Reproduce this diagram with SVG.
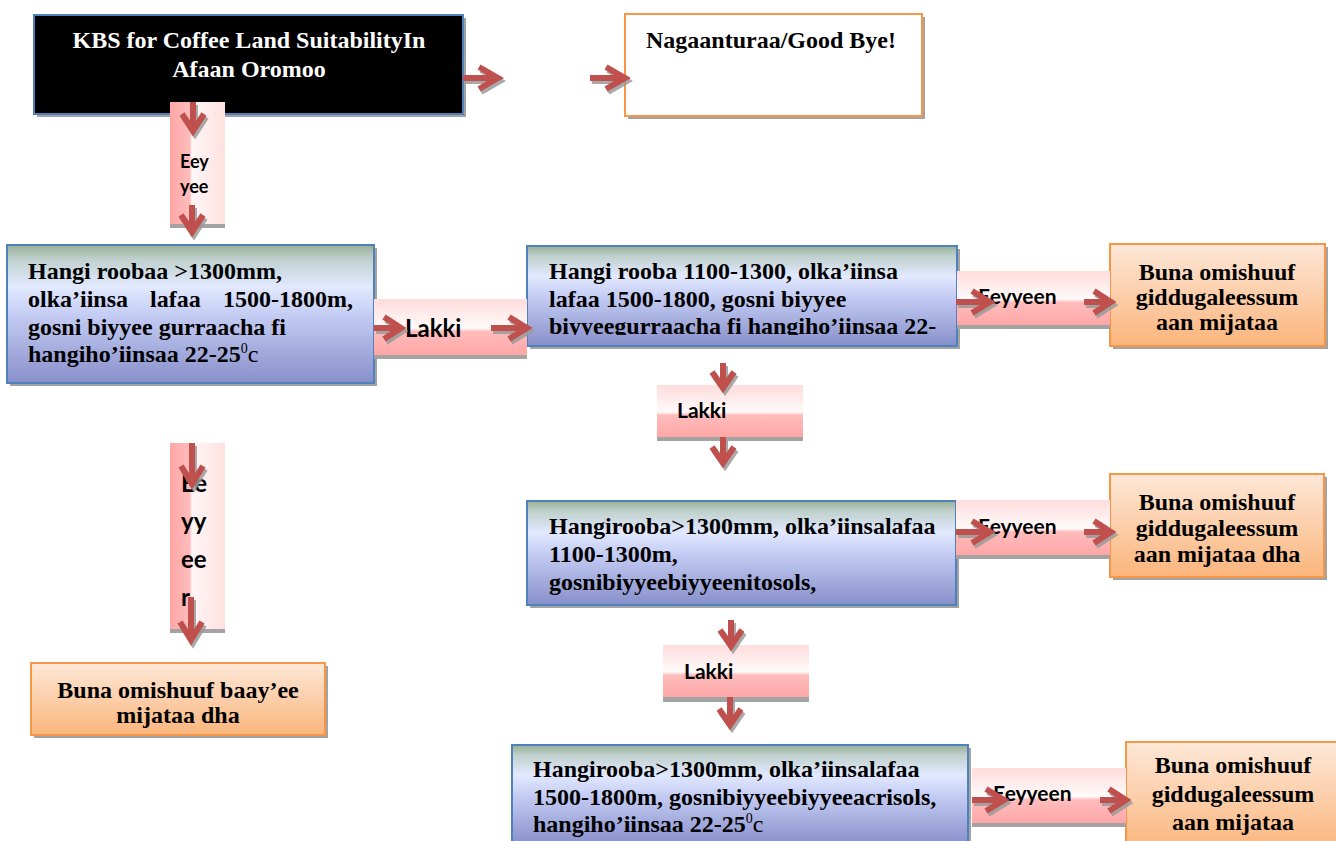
<svg xmlns="http://www.w3.org/2000/svg" width="1336" height="841" viewBox="0 0 1336 841">
<defs>
<linearGradient id="gBlue" x1="0" y1="0" x2="0" y2="1">
<stop offset="0" stop-color="#98b096"/>
<stop offset="0.1" stop-color="#bfd0cc"/>
<stop offset="0.3" stop-color="#e2e9ff"/>
<stop offset="0.5" stop-color="#c5cdf4"/>
<stop offset="1" stop-color="#878fca"/>
</linearGradient>
<linearGradient id="gOrange" x1="0" y1="0" x2="0" y2="1">
<stop offset="0" stop-color="#fde8d8"/>
<stop offset="1" stop-color="#fbb57c"/>
</linearGradient>
<linearGradient id="gPinkH" x1="0" y1="0" x2="0" y2="1">
<stop offset="0" stop-color="#ffdcdc"/>
<stop offset="0.52" stop-color="#fffafa"/>
<stop offset="0.58" stop-color="#ffbcbc"/>
<stop offset="1" stop-color="#ffa6a6"/>
</linearGradient>
<linearGradient id="gPinkV" x1="0" y1="0" x2="1" y2="0">
<stop offset="0" stop-color="#ffa6a6"/>
<stop offset="0.36" stop-color="#ffbcbc"/>
<stop offset="0.4" stop-color="#fff6f6"/>
<stop offset="1" stop-color="#ffe0e0"/>
</linearGradient>
<clipPath id="clipB2"><rect x="527" y="246" width="430" height="89"/></clipPath>
</defs>
<style>
.sh{fill:#a3a3a3}
.blue{fill:url(#gBlue);stroke:#4f81bd;stroke-width:2}
.orng{fill:url(#gOrange);stroke:#f79646;stroke-width:2}
.pinkH{fill:url(#gPinkH)}
.pinkV{fill:url(#gPinkV)}
.t{font-family:"Liberation Serif","Times New Roman",serif;font-weight:bold;font-size:24px;fill:#000}
.tc{text-anchor:middle}
.lbl{font-family:Lato,"Open Sans","Liberation Sans",sans-serif;font-weight:bold;fill:#000}
.ar{fill:none;stroke:#c0504d;stroke-width:6;stroke-linejoin:miter;stroke-linecap:butt}
.as{fill:none;stroke:#9a9a9a;stroke-width:6;stroke-linejoin:miter;stroke-linecap:butt;opacity:0.85}
.sup{font-size:14px;font-weight:normal}
.nw{font-weight:normal}
</style>
<rect width="1336" height="841" fill="#fff"/>

<g id="node-start">
<rect class="sh" x="37" y="18" width="429" height="99"/>
<rect x="34" y="15" width="429" height="99" fill="#000" stroke="#4f81bd" stroke-width="2"/>
<text class="t tc" x="249" y="48" style="fill:#fff">KBS for Coffee Land SuitabilityIn</text>
<text class="t tc" x="249" y="77" style="fill:#fff">Afaan Oromoo</text>
</g>

<g id="node-goodbye">
<rect class="sh" x="628" y="17" width="297" height="102"/>
<rect x="625" y="14" width="297" height="102" fill="#fff" stroke="#f79646" stroke-width="2"/>
<text class="t tc" x="771" y="48">Nagaanturaa/Good Bye!</text>
</g>

<g id="node-q1">
<rect class="sh" x="10" y="248" width="367" height="138"/>
<rect class="blue" x="7" y="245" width="367" height="138"/>
<text class="t" x="28" y="279">Hangi roobaa &gt;1300mm,</text>
<text class="t" y="307"><tspan x="28">olka’iinsa</tspan><tspan x="150">lafaa</tspan><tspan x="223">1500-1800m,</tspan></text>
<text class="t" x="28" y="335">gosni biyyee gurraacha fi</text>
<text class="t" x="28" y="362">hangiho’iinsaa 22-25<tspan class="sup" dy="-9">0</tspan><tspan class="nw" dy="9">c</tspan></text>
</g>

<g id="node-q2">
<rect class="sh" x="530" y="249" width="430" height="100"/>
<rect class="blue" x="527" y="246" width="430" height="100"/>
<g clip-path="url(#clipB2)">
<text class="t" x="549" y="279">Hangi rooba 1100-1300, olka’iinsa</text>
<text class="t" x="549" y="307">lafaa 1500-1800, gosni biyyee</text>
<text class="t" x="549" y="334">biyyeegurraacha fi hangiho’iinsaa 22-</text>
</g>
</g>

<g id="node-r1">
<rect class="sh" x="1113" y="247" width="215" height="102"/>
<rect class="orng" x="1110" y="244" width="215" height="102"/>
<text class="t tc" x="1217" y="280">Buna omishuuf</text>
<text class="t tc" x="1217" y="305">giddugaleessum</text>
<text class="t tc" x="1217" y="330">aan mijataa</text>
</g>

<g id="node-q3">
<rect class="sh" x="530" y="504" width="429" height="104"/>
<rect class="blue" x="527" y="501" width="429" height="104"/>
<text class="t" x="549" y="534">Hangirooba&gt;1300mm, olka’iinsalafaa</text>
<text class="t" x="549" y="562">1100-1300m,</text>
<text class="t" x="549" y="590">gosnibiyyeebiyyeenitosols,</text>
</g>

<g id="node-r2">
<rect class="sh" x="1113" y="477" width="214" height="103"/>
<rect class="orng" x="1110" y="474" width="214" height="103"/>
<text class="t tc" x="1217" y="510">Buna omishuuf</text>
<text class="t tc" x="1217" y="536">giddugaleessum</text>
<text class="t tc" x="1217" y="562">aan mijataa dha</text>
</g>

<g id="node-q4">
<rect class="sh" x="515" y="748" width="456" height="100"/>
<rect class="blue" x="512" y="745" width="456" height="100"/>
<text class="t" x="533" y="777">Hangirooba&gt;1300mm, olka’iinsalafaa</text>
<text class="t" x="533" y="805">1500-1800m, gosnibiyyeebiyyeeacrisols,</text>
<text class="t" x="533" y="832">hangiho’iinsaa 22-25<tspan class="sup" dy="-9">0</tspan><tspan class="nw" dy="9">c</tspan></text>
</g>

<g id="node-r3">
<rect class="sh" x="1129" y="745" width="215" height="110"/>
<rect class="orng" x="1126" y="742" width="215" height="110"/>
<text class="t tc" x="1233" y="773">Buna omishuuf</text>
<text class="t tc" x="1233" y="802">giddugaleessum</text>
<text class="t tc" x="1233" y="830">aan mijataa</text>
</g>

<g id="node-r0">
<rect class="sh" x="34" y="666" width="294" height="72"/>
<rect class="orng" x="31" y="663" width="294" height="72"/>
<text class="t tc" x="178" y="698">Buna omishuuf baay’ee</text>
<text class="t tc" x="178" y="723">mijataa dha</text>
</g>

<g id="connectors">
<g transform="translate(498,78)"><path class="as" transform="translate(2,3)" d="M-35,0 H-3 M-19,-11 L0,0 L-19,11"/><path class="ar" d="M-35,0 H-3 M-19,-11 L0,0 L-19,11"/></g>
<g transform="translate(625,78)"><path class="as" transform="translate(2,3)" d="M-35,0 H-3 M-19,-11 L0,0 L-19,11"/><path class="ar" d="M-35,0 H-3 M-19,-11 L0,0 L-19,11"/></g>

<g id="c-eeyyee">
<rect class="sh" x="170" y="224" width="55" height="4"/>
<rect class="pinkV" x="170" y="102" width="55" height="122"/>
<text class="lbl" x="180" y="168" font-size="18">Eey</text>
<text class="lbl" x="180" y="193" font-size="18">yee</text>
<g transform="translate(193,131)"><path class="as" transform="translate(2,3) rotate(90)" d="M-29,0 H-3 M-17,-11 L0,0 L-17,11"/><path class="ar" transform="rotate(90)" d="M-29,0 H-3 M-17,-11 L0,0 L-17,11"/></g>
<g transform="translate(192,232)"><path class="as" transform="translate(2,3) rotate(90)" d="M-27,0 H-3 M-17,-11 L0,0 L-17,11"/><path class="ar" transform="rotate(90)" d="M-27,0 H-3 M-17,-11 L0,0 L-17,11"/></g>
</g>

<g id="c-lakki-h">
<rect class="sh" x="374" y="355" width="153" height="4"/>
<rect class="pinkH" x="374" y="299" width="153" height="56"/>
<text class="lbl" x="405" y="337" font-size="24">Lakki</text>
<g transform="translate(401,328)"><path class="as" transform="translate(2,3)" d="M-27,0 H-3 M-17,-11 L0,0 L-17,11"/><path class="ar" d="M-27,0 H-3 M-17,-11 L0,0 L-17,11"/></g>
<g transform="translate(527,328)"><path class="as" transform="translate(2,3)" d="M-36,0 H-3 M-18,-11 L0,0 L-18,11"/><path class="ar" d="M-36,0 H-3 M-18,-11 L0,0 L-18,11"/></g>
</g>

<g id="c-eeyyeen-1">
<rect class="sh" x="957" y="325" width="153" height="4"/>
<rect class="pinkH" x="957" y="271" width="153" height="54"/>
<text class="lbl" x="978" y="304" font-size="21">Eeyyeen</text>
<g transform="translate(990,302)"><path class="as" transform="translate(2,3)" d="M-34,0 H-3 M-18,-11 L0,0 L-18,11"/><path class="ar" d="M-34,0 H-3 M-18,-11 L0,0 L-18,11"/></g>
<g transform="translate(1111,302)"><path class="as" transform="translate(2,3)" d="M-27,0 H-3 M-17,-11 L0,0 L-17,11"/><path class="ar" d="M-27,0 H-3 M-17,-11 L0,0 L-17,11"/></g>
</g>

<g id="c-lakki-v1">
<rect class="sh" x="657" y="437" width="146" height="4"/>
<rect class="pinkH" x="657" y="385" width="146" height="52"/>
<text class="lbl" x="677" y="418" font-size="21">Lakki</text>
<g transform="translate(723,388)"><path class="as" transform="translate(2,3) rotate(90)" d="M-25,0 H-3 M-16,-11 L0,0 L-16,11"/><path class="ar" transform="rotate(90)" d="M-25,0 H-3 M-16,-11 L0,0 L-16,11"/></g>
<g transform="translate(723,463)"><path class="as" transform="translate(2,3) rotate(90)" d="M-26,0 H-3 M-16,-11 L0,0 L-16,11"/><path class="ar" transform="rotate(90)" d="M-26,0 H-3 M-16,-11 L0,0 L-16,11"/></g>
</g>

<g id="c-eeyyeen-2">
<rect class="sh" x="956" y="555" width="154" height="4"/>
<rect class="pinkH" x="956" y="500" width="154" height="55"/>
<text class="lbl" x="978" y="534" font-size="21">Eeyyeen</text>
<g transform="translate(990,532)"><path class="as" transform="translate(2,3)" d="M-34,0 H-3 M-18,-11 L0,0 L-18,11"/><path class="ar" d="M-34,0 H-3 M-18,-11 L0,0 L-18,11"/></g>
<g transform="translate(1111,532)"><path class="as" transform="translate(2,3)" d="M-27,0 H-3 M-17,-11 L0,0 L-17,11"/><path class="ar" d="M-27,0 H-3 M-17,-11 L0,0 L-17,11"/></g>
</g>

<g id="c-lakki-v2">
<rect class="sh" x="663" y="697" width="146" height="5"/>
<rect class="pinkH" x="663" y="645" width="146" height="52"/>
<text class="lbl" x="684" y="679" font-size="21">Lakki</text>
<g transform="translate(731,646)"><path class="as" transform="translate(2,3) rotate(90)" d="M-26,0 H-3 M-16,-11 L0,0 L-16,11"/><path class="ar" transform="rotate(90)" d="M-26,0 H-3 M-16,-11 L0,0 L-16,11"/></g>
<g transform="translate(730,725)"><path class="as" transform="translate(2,3) rotate(90)" d="M-28,0 H-3 M-16,-11 L0,0 L-16,11"/><path class="ar" transform="rotate(90)" d="M-28,0 H-3 M-16,-11 L0,0 L-16,11"/></g>
</g>

<g id="c-eeyyeen-3">
<rect class="sh" x="972" y="823" width="154" height="4"/>
<rect class="pinkH" x="972" y="768" width="154" height="55"/>
<text class="lbl" x="993" y="801" font-size="21">Eeyyeen</text>
<g transform="translate(1004,800)"><path class="as" transform="translate(2,3)" d="M-32,0 H-3 M-18,-11 L0,0 L-18,11"/><path class="ar" d="M-32,0 H-3 M-18,-11 L0,0 L-18,11"/></g>
<g transform="translate(1126,800)"><path class="as" transform="translate(2,3)" d="M-26,0 H-3 M-17,-11 L0,0 L-17,11"/><path class="ar" d="M-26,0 H-3 M-17,-11 L0,0 L-17,11"/></g>
</g>

<g id="c-eeyeer">
<rect class="sh" x="170" y="629" width="55" height="4"/>
<rect class="pinkV" x="170" y="443" width="55" height="186"/>
<text class="lbl" x="181" y="492" font-size="24">Ee</text>
<text class="lbl" x="181" y="530" font-size="24">yy</text>
<text class="lbl" x="181" y="568" font-size="24">ee</text>
<text class="lbl" x="181" y="606" font-size="24">r</text>
<g transform="translate(192,484)"><path class="as" transform="translate(2,3) rotate(90)" d="M-41,0 H-3 M-18,-11 L0,0 L-18,11"/><path class="ar" transform="rotate(90)" d="M-41,0 H-3 M-18,-11 L0,0 L-18,11"/></g>
<g transform="translate(191,640)"><path class="as" transform="translate(2,3) rotate(90)" d="M-43,0 H-3 M-18,-11 L0,0 L-18,11"/><path class="ar" transform="rotate(90)" d="M-43,0 H-3 M-18,-11 L0,0 L-18,11"/></g>
</g>
</g>
</svg>
